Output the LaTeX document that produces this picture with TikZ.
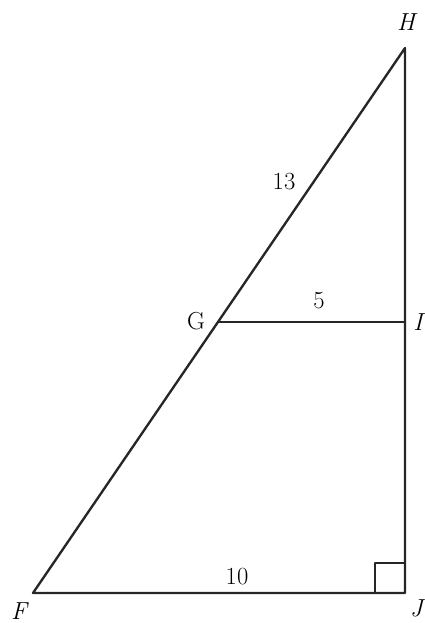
\documentclass[tikz,border=0pt]{standalone}
\usepackage{tikz}
\usetikzlibrary{positioning,calc}

\begin{document}
\begin{tikzpicture}[
        x=0.03cm, y=-0.03cm,
        edge/.style={draw=black!85, line width=2pt, line cap=round, line join=round},
        vertex/.style={font=\fontsize{21}{24}\selectfont\itshape, inner sep=0pt},
        uvertex/.style={font=\fontsize{21}{24}\selectfont, inner sep=0pt},
        length/.style={font=\fontsize{21}{24}\selectfont, inner sep=0pt},
      ]
      \useasboundingbox (0,0) rectangle (425,623);
      % Points
      \coordinate (F) at (33,593);
      \coordinate (J) at (405,593);
      \coordinate (H) at (405,48);
      \coordinate (G) at (218,322);
      \coordinate (I) at (405,322);
      % Right angle at J
      \coordinate (sqa) at (375,593);
      \coordinate (sqb) at (375,563);
      \coordinate (sqc) at (405,563);
      % Sides
      \draw [edge] (F) -- (J) -- (H) -- cycle;
      \draw [edge] (G) -- (I);
      \draw [edge, line width=1.5pt] (sqa) -- (sqb) -- (sqc);
      % Vertex labels
      \node [vertex] (labH) at (406,22) {H};
      \node [uvertex] (labG) at (196,321) {G};
      \node [vertex, anchor=east] (labI) at (423,322) {I};
      \node [vertex, anchor=east] (labJ) at (423,608) {J};
      \node [vertex] (labF) at (19,611) {F};
      % Side lengths
      \node [length] (len13) at (284,182) {13};
      \node [length] (len5) at (319,301) {5};
      \node [length] (len10) at (237,577) {10};
    \end{tikzpicture}
\end{document}
